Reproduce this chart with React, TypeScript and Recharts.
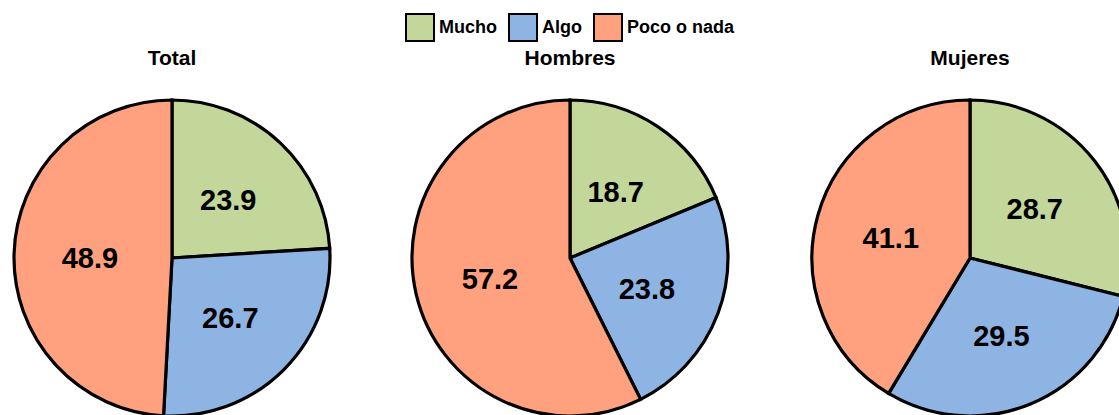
import { PieChart, Pie, Cell } from "recharts";

const categories = ["Mucho", "Algo", "Poco o nada"];
const groups = ["Total", "Hombres", "Mujeres"];
const totalValues = [23.9, 26.7, 48.9];
const hombresValues = [18.7, 23.8, 57.2];
const mujeresValues = [28.7, 29.5, 41.1];

const colors = ["#C4D79B", "#8EB4E3", "#FFA07F"];
const centers = [172, 570, 970];
const RADIAN = Math.PI / 180;
const font = "'Liberation Sans', Arial, sans-serif";

const series = [totalValues, hombresValues, mujeresValues].map((vals) =>
  vals.map((v, i) => ({ name: categories[i], value: v }))
);

function renderLabel(props: any) {
  const { cx, cy, midAngle, outerRadius, value } = props;
  const r = outerRadius * 0.52;
  const x = cx + r * Math.cos(-midAngle * RADIAN);
  const y = cy + r * Math.sin(-midAngle * RADIAN) + 2;
  return (
    <text
      x={x}
      y={y}
      textAnchor="middle"
      dominantBaseline="central"
      fill="#000"
      fontSize={29}
      fontWeight="bold"
      fontFamily={font}
    >
      {value.toFixed(1)}
    </text>
  );
}

function LegendBox() {
  return (
    <div
      style={{
        position: "absolute",
        top: 13,
        left: 10,
        width: 1119,
        display: "flex",
        justifyContent: "center",
        alignItems: "center",
        gap: 11,
        fontFamily: font,
        fontWeight: "bold",
        fontSize: 18,
        color: "#000",
      }}
    >
      {categories.map((c, i) => (
        <span key={c} style={{ display: "flex", alignItems: "center", gap: 4 }}>
          <span
            style={{
              display: "inline-block",
              width: 26,
              height: 25,
              background: colors[i],
              border: "2.5px solid #000",
            }}
          />
          {c}
        </span>
      ))}
    </div>
  );
}

export default function App() {
  return (
    <div style={{ position: "absolute", left: 0, top: 0, width: 1119, height: 415, overflow: "hidden", background: "#fff" }}>
      <PieChart width={1119} height={415} margin={{ top: 0, right: 0, bottom: 0, left: 0 }}>
        {series.map((data, k) => (
          <Pie
            key={groups[k]}
            data={data}
            dataKey="value"
            nameKey="name"
            cx={centers[k]}
            cy={258}
            outerRadius={158}
            startAngle={90}
            endAngle={-270}
            stroke="#000"
            strokeWidth={3.2}
            label={renderLabel}
            labelLine={false}
            isAnimationActive={false}
          >
            {data.map((_, i) => (
              <Cell key={i} fill={colors[i]} />
            ))}
          </Pie>
        ))}
      </PieChart>
      <LegendBox />
      {groups.map((g, k) => (
        <div
          key={g}
          style={{
            position: "absolute",
            left: centers[k] - 100,
            width: 200,
            top: 46,
            textAlign: "center",
            fontFamily: font,
            fontWeight: "bold",
            fontSize: 21,
            lineHeight: "24px",
            color: "#000",
          }}
        >
          {g}
        </div>
      ))}
    </div>
  );
}
